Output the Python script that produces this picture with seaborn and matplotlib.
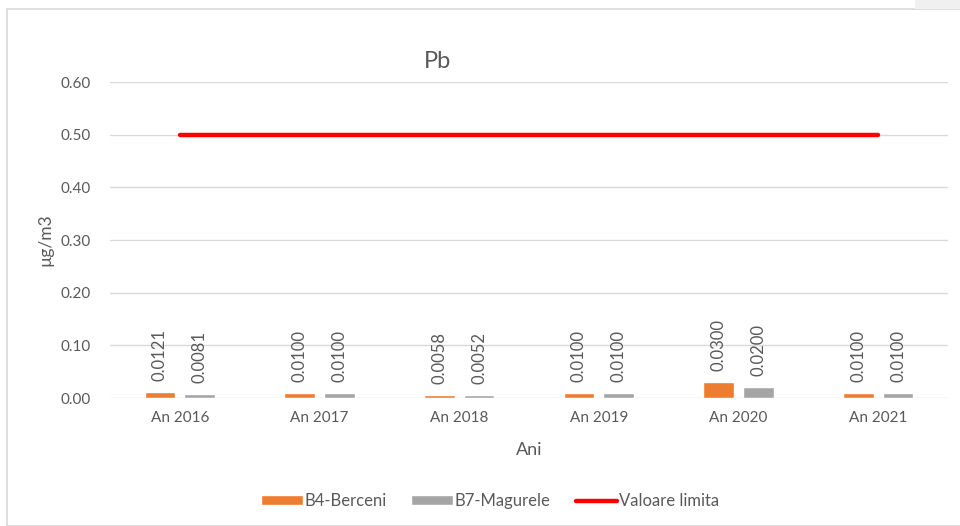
import numpy as np
import pandas as pd
import matplotlib
matplotlib.use("Agg")
import matplotlib.pyplot as plt
from matplotlib.patches import Rectangle
from matplotlib.lines import Line2D
import seaborn as sns

years = ["An 2016", "An 2017", "An 2018", "An 2019", "An 2020", "An 2021"]
berceni = [0.0121, 0.0100, 0.0058, 0.0100, 0.0300, 0.0100]
magurele = [0.0081, 0.0100, 0.0052, 0.0100, 0.0200, 0.0100]
limit = [0.50, 0.50, 0.50, 0.50, 0.50, 0.50]
series_names = ["B4-Berceni", "B7-Magurele", "Valoare limita"]

sns.set_theme(style="white")
plt.rcParams["font.family"] = ["Lato", "DejaVu Sans"]
TXT = "#595959"
GRID = "#D9D9D9"
colors = ["#ED7D31", "#A5A5A5"]

df = pd.DataFrame({
    "An": years * 2,
    "val": berceni + magurele,
    "serie": [series_names[0]] * len(years) + [series_names[1]] * len(years),
})

W, H = 960, 526
fig = plt.figure(figsize=(W / 100, H / 100), dpi=100)
ax = fig.add_axes([110 / W, 1 - 398 / H, (948 - 110) / W, (398 - 82) / H])

sns.barplot(data=df, x="An", y="val", hue="serie", palette=colors,
            width=0.57, gap=0.227, ax=ax, legend=False, saturation=1)
sns.lineplot(x=np.arange(len(years)), y=limit, color="#FF0000", linewidth=3.2,
             ax=ax, solid_capstyle="round")

for cont in ax.containers:
    ax.bar_label(cont, fmt="%.4f", rotation=90, padding=8, fontsize=12, color=TXT)

ax.set_xlim(-0.5, len(years) - 0.5)
ax.set_ylim(0, 0.6)
ax.set_yticks(np.arange(0, 0.61, 0.1))
ax.set_yticklabels([f"{v:.2f}" for v in np.arange(0, 0.61, 0.1)])
ax.yaxis.grid(True, color=GRID, linewidth=1)
ax.set_axisbelow(True)
for s in ax.spines.values():
    s.set_visible(False)
ax.tick_params(axis="both", length=0, labelsize=11, colors=TXT)
ax.tick_params(axis="x", pad=9)
ax.tick_params(axis="y", pad=14)

ax.set_xlabel("Ani", fontsize=13, color=TXT)
ax.xaxis.set_label_coords(0.5, -(450 - 398) / 316)
ax.xaxis.label.set_va("center")
ax.set_ylabel("µg/m3", fontsize=12.5, color=TXT)
ax.yaxis.set_label_coords((45 - 110) / 838, 0.5)
ax.yaxis.label.set_va("center")

fig.text(437 / W, 1 - 62 / H, "Pb", fontsize=17, color=TXT, ha="center", va="center")

handles = [
    Rectangle((0, 0), 1, 1, facecolor=colors[0]),
    Rectangle((0, 0), 1, 1, facecolor=colors[1]),
    Line2D([0], [0], color="#FF0000", linewidth=3.2),
]
fig.legend(handles, series_names, loc="center", bbox_to_anchor=(490 / W, 1 - 501 / H),
           ncol=3, frameon=False, fontsize=12, handlelength=2.5, handleheight=0.55,
           handletextpad=0.1, columnspacing=1.5, labelcolor=TXT)

# outer chart frame and top-right strip
fig.patches.append(Rectangle((7 / W, 0), 1.0, 1 - 9 / H, transform=fig.transFigure,
                             fill=False, edgecolor="#D9D9D9", linewidth=1.2))
fig.patches.append(Rectangle((915 / W, 1 - 9 / H), 45 / W, 9 / H, transform=fig.transFigure,
                             facecolor="#F0F0F0", edgecolor="none"))

fig.savefig("out.png", dpi=100)
